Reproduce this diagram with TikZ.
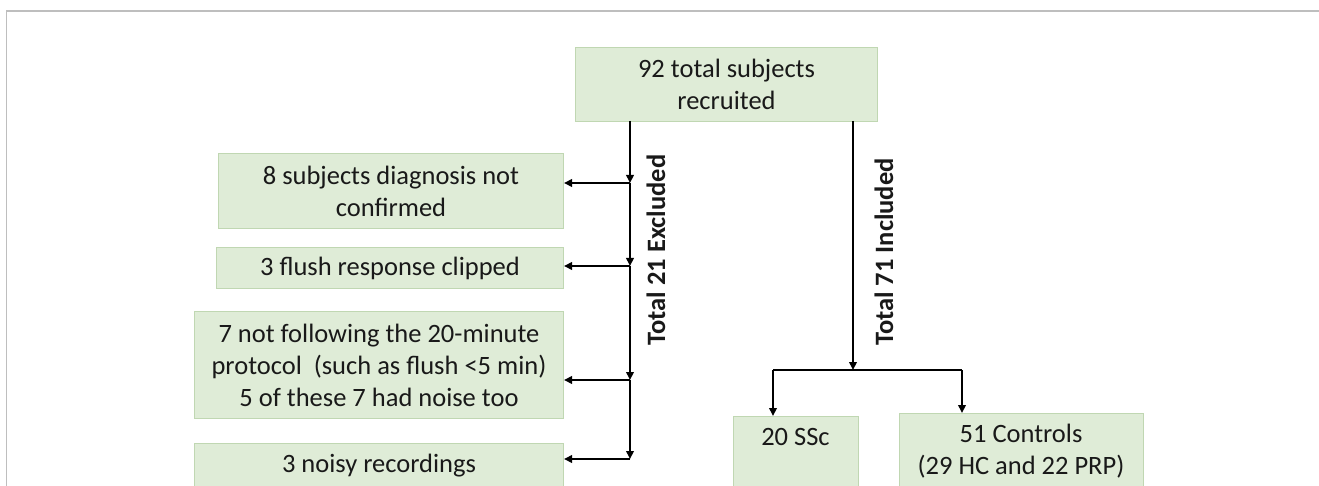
\documentclass[tikz,border=0pt]{standalone}
\usepackage{fontspec}
\setmainfont{Carlito}
\usetikzlibrary{arrows.meta}
\definecolor{boxfill}{RGB}{223,236,215}
\definecolor{boxline}{RGB}{192,215,178}
\definecolor{framegray}{RGB}{190,190,190}
\definecolor{txtcol}{RGB}{25,25,25}
\begin{document}
\begin{tikzpicture}[x=1pt,y=-1pt,
  box/.style={draw=boxline, fill=boxfill, line width=1pt, inner sep=0pt, anchor=north west,
    text=txtcol, font=\fontsize{26.5}{32}\selectfont, align=center},
  lbl/.style={text=txtcol, font=\fontsize{26.5}{32}\selectfont, align=center, inner sep=0pt},
  conn/.style={line width=2pt, draw=black},
  arr/.style={conn, -{Triangle[length=8pt,width=7.5pt]}},
  rot/.style={font=\fontsize{26.5}{30}\selectfont\bfseries, text=txtcol, rotate=90, inner sep=0pt}]
\useasboundingbox (0,0) rectangle (1319,486);
\clip (0,0) rectangle (1319,486);
\draw[framegray, line width=1.5pt] (6.5,490) -- (6.5,11) -- (1319,11);

\node[box, minimum width=302pt, minimum height=74pt] (top) at (575,47) {92 total subjects\\recruited};
\node[box, minimum width=345pt, minimum height=75pt] (b1) at (218,153) {8 subjects diagnosis not\\confirmed};
\node[box, minimum width=347pt, minimum height=41pt] (b2) at (216,247) {3 flush response clipped};
\node[box, minimum width=369pt, minimum height=107pt] (b3) at (194,311) {7 not following the 20-minute\\protocol\ \ (such as flush <5 min)\\5 of these 7 had noise too};
\node[box, minimum width=369pt, minimum height=44pt] (b4) at (194,443) {3 noisy recordings};
\node[box, minimum width=125pt, minimum height=90pt] (ssc) at (733,416) {};
\node[lbl] (ssct) at (795.5,437) {20 SSc};
\node[box, minimum width=244pt, minimum height=90pt] (ctrl) at (899,413) {};
\node[lbl] (ctrlt) at (1021,451) {51 Controls\\(29 HC and 22 PRP)};

\node[rot] (exl) at (656,250) {Total 21 Excluded};
\node[rot] (inl) at (884,252) {Total 71 Included};

\coordinate (L0) at (630,121);
\coordinate (j1) at (630,183);
\coordinate (j2) at (630,266);
\coordinate (j3) at (630,380);
\coordinate (j4) at (630,459);
\draw[arr] (L0) -- (j1);
\draw[arr] (j1) -- (j2);
\draw[arr] (j2) -- (j3);
\draw[arr] (j3) -- (j4);
\draw[arr] (j1) -- (b1.east |- j1);
\draw[arr] (j2) -- (b2.east |- j2);
\draw[arr] (j3) -- (b3.east |- j3);
\draw[arr] (j4) -- (b4.east |- j4);

\coordinate (R0) at (853,121);
\coordinate (R1) at (853,370);
\coordinate (h1) at (773,370);
\coordinate (h2) at (962,370);
\draw[arr] (R0) -- (R1);
\draw[conn] (h1) -- (h2);
\draw[arr] (h1) -- (h1 |- ssc.north);
\draw[arr] (h2) -- (h2 |- ctrl.north);
\end{tikzpicture}
\end{document}
